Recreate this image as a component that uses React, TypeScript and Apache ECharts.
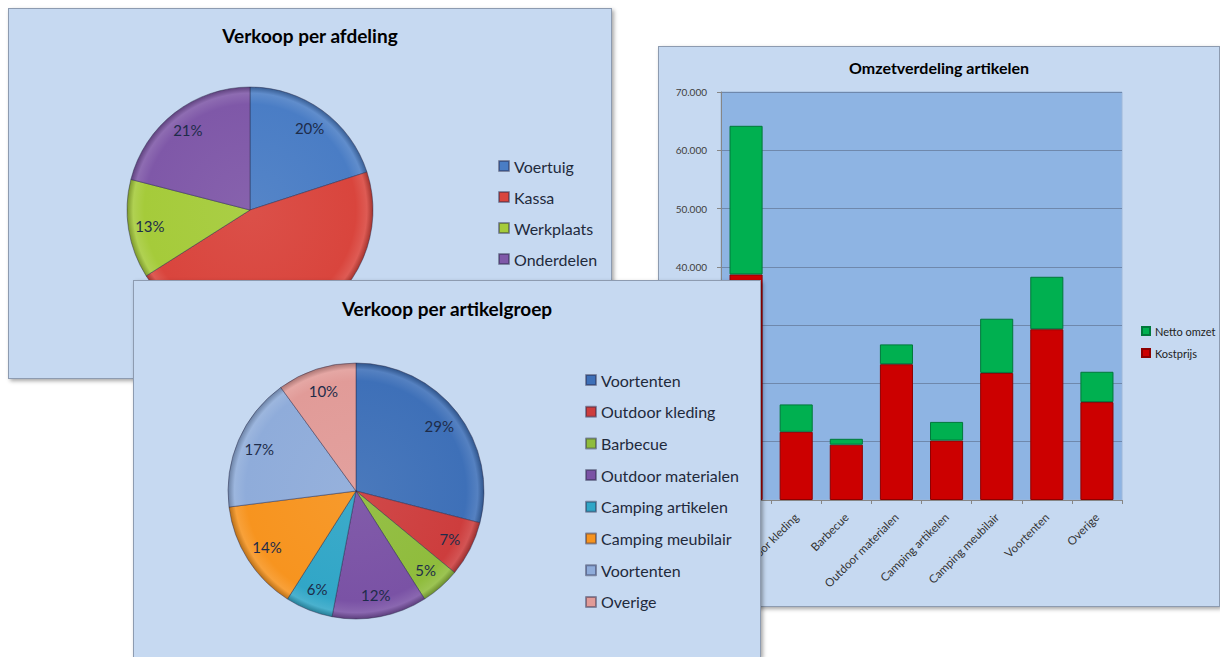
import React, { useEffect, useRef } from 'react';
import * as echarts from 'echarts';

const FONT = 'Lato, "Open Sans", sans-serif';
const PANEL_BG = '#C6D9F1';
const LABEL_COLOR = '#1E2C4A';

// --- Verkoop per afdeling ---
const afdelingTitle = 'Verkoop per afdeling';
const afdelingNames = ['Voertuig', 'Kassa', 'Werkplaats', 'Onderdelen'];
const afdelingValues = [20, 46, 13, 21];
const afdelingColors = ['#4A7DC5', '#D9453D', '#A5CB3A', '#7F58A8'];

// --- Verkoop per artikelgroep ---
const groepTitle = 'Verkoop per artikelgroep';
const groepNames = ['Voortenten', 'Outdoor kleding', 'Barbecue', 'Outdoor materialen', 'Camping artikelen', 'Camping meubilair', 'Voortenten', 'Overige'];
const groepValues = [29, 7, 5, 12, 6, 14, 17, 10];
const groepColors = ['#3E70B8', '#CD3D3D', '#8FBC3C', '#7A52A5', '#31A6C7', '#F7941F', '#8FACDA', '#E19B98'];

// --- Omzetverdeling artikelen ---
const omzetTitle = 'Omzetverdeling artikelen';
const omzetCategories = ['Voortenten', 'Outdoor kleding', 'Barbecue', 'Outdoor materialen', 'Camping artikelen', 'Camping meubilair', 'Voortenten', 'Overige'];
const kostprijs = [38700, 11700, 9500, 23300, 10200, 21800, 29300, 16800];
const nettoOmzet = [25500, 4700, 1000, 3400, 3200, 9300, 9000, 5200];
const omzetSeriesNames = ['Kostprijs', 'Netto omzet'];
const omzetLegendOrder = ['Netto omzet', 'Kostprijs'];
const yMin = 0;
const yMax = 70000;
const yStep = 10000;

const keyName = (n: string, i: number) => `${n}#${i}`;
const stripKey = (n: string) => n.replace(/#\d+$/, '');

function shade(hex: string, amt: number) {
  const h = hex.replace('#', '');
  const c = [0, 2, 4].map((i) => parseInt(h.slice(i, i + 2), 16));
  const out = c.map((v) => {
    const nv = amt >= 0 ? v + (255 - v) * amt : v * (1 + amt);
    return Math.max(0, Math.min(255, Math.round(nv)));
  });
  return '#' + out.map((v) => v.toString(16).padStart(2, '0')).join('');
}

function pieOption(
  title: string,
  titleTop: number,
  names: string[],
  values: number[],
  colors: string[],
  center: [number, number],
  r: number,
  legendLeft: number,
  legendTop: number,
  legendGap: number
) {
  const data = names.map((n, i) => ({
    name: keyName(n, i),
    value: values[i],
    itemStyle: {
      color: new echarts.graphic.RadialGradient(
        center[0],
        center[1],
        r,
        [
          { offset: 0, color: shade(colors[i], 0.06) },
          { offset: 0.86, color: colors[i] },
          { offset: 0.95, color: shade(colors[i], 0.12) },
          { offset: 1, color: shade(colors[i], -0.25) },
        ],
        true
      ),
    },
  }));
  const labelData = names.map((n, i) => ({ name: 'lbl' + i, value: values[i] }));
  return {
    animation: false,
    backgroundColor: PANEL_BG,
    color: colors,
    title: {
      text: title,
      left: 'center',
      top: titleTop,
      padding: 0,
      textStyle: { fontFamily: FONT, fontSize: 19, fontWeight: 'bold', color: '#000', lineHeight: 22 },
    },
    legend: {
      orient: 'vertical',
      left: legendLeft,
      top: legendTop,
      padding: 0,
      itemGap: legendGap,
      itemWidth: 10,
      itemHeight: 10,
      icon: 'rect',
      selectedMode: false,
      data: data.map((d, i) => ({ name: d.name, itemStyle: { color: colors[i] } })),
      formatter: (n: string) => stripKey(n),
      textStyle: { fontFamily: FONT, fontSize: 16, color: '#1F2A3C', lineHeight: 16 },
    },
    series: [
      {
        type: 'pie',
        center,
        radius: r,
        startAngle: 90,
        clockwise: true,
        silent: true,
        label: { show: false },
        labelLine: { show: false },
        itemStyle: { borderColor: 'rgba(40,40,70,0.45)', borderWidth: 1 },
        data,
      },
      {
        type: 'pie',
        center,
        radius: [r * 0.6, r],
        startAngle: 90,
        clockwise: true,
        silent: true,
        z: 5,
        itemStyle: { color: 'rgba(0,0,0,0)' },
        label: {
          show: true,
          position: 'inside',
          formatter: (p: any) => Math.round(p.percent) + '%',
          fontFamily: FONT,
          fontSize: 15,
          color: LABEL_COLOR,
        },
        labelLine: { show: false },
        data: labelData,
      },
    ],
  };
}

function barOption() {
  const fmt = (v: number) => String(v).replace(/\B(?=(\d{3})+(?!\d))/g, '.');
  return {
    animation: false,
    backgroundColor: PANEL_BG,
    title: {
      text: omzetTitle,
      left: 'center',
      top: 11,
      padding: 0,
      textStyle: { fontFamily: FONT, fontSize: 16, fontWeight: 'bold', color: '#000', lineHeight: 18 },
    },
    legend: {
      orient: 'vertical',
      left: 482,
      top: 277,
      padding: 0,
      itemGap: 8,
      itemWidth: 8,
      itemHeight: 8,
      icon: 'rect',
      selectedMode: false,
      data: omzetLegendOrder,
      textStyle: { fontFamily: FONT, fontSize: 11, color: '#222', lineHeight: 14 },
    },
    grid: {
      left: 62,
      top: 45,
      width: 401,
      height: 408,
      show: true,
      backgroundColor: '#8EB4E3',
      borderColor: '#9DB8DA',
      borderWidth: 1,
    },
    xAxis: {
      type: 'category',
      data: omzetCategories,
      axisLine: { lineStyle: { color: '#868686' } },
      axisTick: { show: true, length: 4, lineStyle: { color: '#868686' } },
      axisLabel: { rotate: 45, margin: 15, fontFamily: FONT, fontSize: 11.5, color: '#333', interval: 0 },
    },
    yAxis: {
      type: 'value',
      min: yMin,
      max: yMax,
      interval: yStep,
      axisLine: { show: true, lineStyle: { color: '#868686' } },
      axisTick: { show: true, length: 4, lineStyle: { color: '#868686' } },
      axisLabel: { margin: 14, fontFamily: FONT, fontSize: 10, color: '#404040', formatter: fmt },
      splitLine: { show: true, lineStyle: { color: '#6F88AC', width: 1 } },
    },
    series: [
      {
        name: omzetSeriesNames[0],
        type: 'bar',
        stack: 'omzet',
        barWidth: '66%',
        data: kostprijs,
        itemStyle: { color: '#CC0000', borderColor: '#8E0000', borderWidth: 1 },
      },
      {
        name: omzetSeriesNames[1],
        type: 'bar',
        stack: 'omzet',
        barWidth: '66%',
        data: nettoOmzet,
        itemStyle: { color: '#00B050', borderColor: '#00783A', borderWidth: 1 },
      },
    ],
  };
}

function Panel(props: {
  left: number;
  top: number;
  width: number;
  height: number;
  z: number;
  noBottom?: boolean;
  option: any;
}) {
  const ref = useRef<HTMLDivElement>(null);
  const { left, top, width, height, z, noBottom, option } = props;
  const innerW = width - 2;
  const innerH = height - (noBottom ? 1 : 2);
  useEffect(() => {
    if (!ref.current) return;
    const chart = echarts.init(ref.current, undefined, { renderer: 'svg', width: innerW, height: innerH });
    chart.setOption(option);
    return () => chart.dispose();
  }, []);
  return (
    <div
      style={{
        position: 'absolute',
        left,
        top,
        width: innerW,
        height: innerH,
        border: '1px solid #8D9BB0',
        borderBottom: noBottom ? 'none' : '1px solid #8D9BB0',
        boxShadow: '2px 2px 4px rgba(0,0,0,0.35)',
        zIndex: z,
        background: PANEL_BG,
      }}
    >
      <div ref={ref} style={{ width: innerW, height: innerH }} />
    </div>
  );
}

export default function App() {
  const optA = pieOption(afdelingTitle, 15, afdelingNames, afdelingValues, afdelingColors, [241, 201], 123, 489, 149, 15);
  const optC = pieOption(groepTitle, 16, groepNames, groepValues, groepColors, [222, 210], 128, 451, 91, 15.7);
  const optB = barOption();
  return (
    <div
      style={{
        position: 'fixed',
        left: 0,
        top: 0,
        width: 1220,
        height: 657,
        overflow: 'hidden',
        background: '#fff',
      }}
    >
      <Panel left={8} top={8} width={604} height={371} z={1} option={optA} />
      <Panel left={658} top={46} width={562} height={561} z={1} option={optB} />
      <Panel left={133} top={280} width={628} height={377} z={3} noBottom option={optC} />
    </div>
  );
}
